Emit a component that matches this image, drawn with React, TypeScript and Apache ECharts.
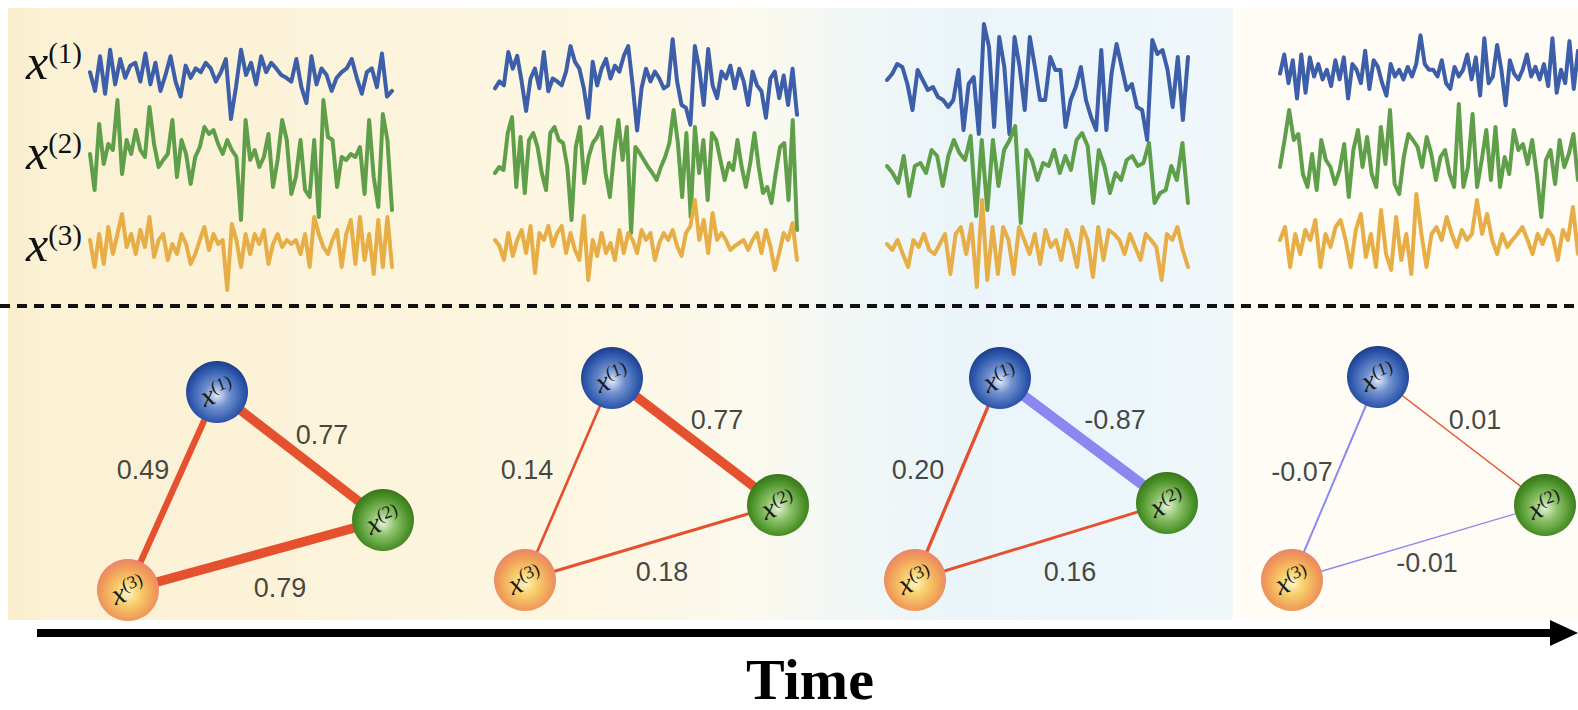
import React, { useEffect, useRef } from "react";
import * as echarts from "echarts";

const W = 1578;
const H = 710;

// ---- time-series values (amplitude in px, positive = up) ----
const p1s1 = [3,-17,20,-20,27,-10,17,-3,10,13,-7,23,-10,13,-17,0,20,-7,-23,10,-3,7,3,13,7,-7,3,17,-47,-13,27,0,13,-10,20,3,13,7,0,-3,-7,17,-13,-30,20,-10,7,0,-17,-3,3,7,17,-3,-20,3,7,-13,23,-23,-17];
const p1s2 = [3,-33,33,-7,13,7,57,-17,17,3,27,7,0,50,13,-10,-3,3,37,-20,17,3,-27,0,10,30,23,27,13,3,17,7,0,-63,37,-3,7,-10,0,23,-30,-3,37,17,-37,-20,17,-33,-40,17,-60,57,20,17,-30,0,-3,3,0,10,-37,37,-20,-50,43,17,-53];
const p1s3 = [7,-20,13,-17,20,-7,13,33,0,13,-7,17,0,30,-10,7,13,-13,3,-7,13,3,-17,-7,7,20,-3,13,3,7,-43,23,7,-20,13,-7,13,3,17,-17,3,13,0,7,3,7,-7,13,-20,30,13,0,-7,7,17,-20,13,27,-17,30,-13,13,-27,27,-20,30,-20];

const p2s1 = [-10,-3,-7,27,10,23,-3,-33,0,10,-10,27,-13,0,-3,-7,7,33,17,10,-10,-40,17,-7,10,20,0,13,7,23,33,-7,-53,-10,10,-3,7,0,-10,-7,40,-3,-27,-30,-47,33,10,-27,30,-7,-20,7,0,13,-10,10,-3,-27,7,-7,-13,-40,0,7,-20,3,-27,10,-37];
const p2s2 = [-13,-7,-10,27,43,-27,23,-33,20,27,13,-13,-30,27,33,20,17,-7,-60,13,33,-23,3,17,23,33,-13,-37,7,40,0,33,-73,13,7,0,-7,-13,-20,-7,3,17,50,17,-37,27,-57,33,-13,20,-40,27,20,0,-20,-3,-10,20,-7,-27,-3,27,-7,-33,-27,-43,-13,13,17,-40,40,-70];
const p2s3 = [3,-3,-17,10,-13,3,13,-10,17,-30,10,3,17,-3,10,17,-10,10,-7,-17,27,-37,3,-13,10,-10,0,-17,13,-10,10,3,-10,13,3,10,-17,0,10,3,13,-3,-13,10,17,43,3,23,-10,30,3,10,3,-7,-3,0,3,-7,3,10,-10,13,-3,-27,-10,10,3,20,-17];

const p3s1 = [7,13,23,20,3,-23,17,7,-3,0,-10,-13,-20,-13,17,-43,3,10,-47,63,40,-40,50,20,-47,50,20,-23,50,20,-13,-13,30,17,17,-40,-13,0,20,-13,-30,-43,37,-43,13,43,20,-3,3,-20,-23,-53,47,33,37,17,-20,30,-33,30];
const p3s2 = [7,0,-10,17,-23,7,10,0,23,17,-13,17,33,20,13,37,-43,33,-37,33,-13,23,33,47,-50,23,13,-7,10,7,23,0,17,3,33,40,27,-30,23,7,-20,0,-7,13,17,7,10,30,-30,-20,-17,7,-7,30,-30];
const p3s3 = [3,-3,7,-7,-20,7,0,13,-3,-7,3,13,-27,13,20,-7,23,-40,47,-33,20,-27,20,7,-27,20,7,-7,13,-17,17,0,7,-13,17,3,-20,20,7,-30,20,-13,17,13,7,-7,13,0,-13,13,7,0,-33,13,7,20,-3,-20];

const p4s1 = [3,23,-7,17,-23,23,-17,20,0,13,-3,7,-10,17,-3,20,-23,13,7,-7,27,-13,17,10,-7,-20,13,0,7,-3,10,0,13,43,13,7,7,0,17,-7,-13,10,0,7,23,-3,20,-20,40,-7,0,33,7,-30,17,3,-3,7,23,0,10,-3,13,-10,40,-17,7,-7,37,-13,27];
const p4s2 = [-10,17,47,17,23,-17,-30,3,-33,17,-3,-10,-27,-13,13,-40,7,27,-10,20,-17,-30,30,-7,47,-27,-37,0,23,17,10,-10,20,3,-23,0,7,-17,-30,53,-30,-10,43,-30,-3,27,-23,30,-30,0,-17,27,7,13,-7,17,-17,-60,-3,7,-27,17,-10,3,23,-23];
const p4s3 = [-3,10,-30,3,-17,7,-3,17,-30,3,-10,10,17,-3,-30,7,23,-20,3,-30,27,-17,-33,20,-23,3,-37,43,3,-30,3,10,-3,20,3,-10,7,-3,3,37,3,23,-3,-17,3,-10,-3,3,10,-3,-17,3,-7,7,0,-23,7,-3,30,-17];

const panelSeries = [
  [p1s1, p1s2, p1s3],
  [p2s1, p2s2, p2s3],
  [p3s1, p3s2, p3s3],
  [p4s1, p4s2, p4s3],
];

// ---- graph edge weights: [x1-x2, x1-x3, x3-x2] ----
const w1 = [0.77, 0.49, 0.79];
const w2 = [0.77, 0.14, 0.18];
const w3 = [-0.87, 0.2, 0.16];
const w4 = [0.01, -0.07, -0.01];
const weights = [w1, w2, w3, w4];
const nodeIds = ["1", "2", "3"];
const edgePairs = [[0, 1], [0, 2], [2, 1]];

// ---- layout ----
const panelX = [[90, 392], [495, 797], [887, 1188], [1280, 1582]];
const baselines = [[70, 157, 247], [77, 160, 243], [87, 173, 247], [73, 157, 237]];
const lineColors = ["#3d5fa9", "#5f9f4a", "#e7ae47"];
const labelY = [62, 152, 244];

const nodePos = [
  [[217, 392], [383, 520], [128, 590]],
  [[612, 378], [778, 505], [525, 580]],
  [[1000, 378], [1167, 503], [915, 580]],
  [[1378, 377], [1545, 505], [1292, 580]],
];
const edgeLabelPos = [
  [[322, 435], [143, 470], [280, 588]],
  [[717, 420], [527, 470], [662, 572]],
  [[1115, 420], [918, 470], [1070, 572]],
  [[1475, 420], [1302, 472], [1427, 563]],
];

const sphere = (stops: string[]) => ({
  type: "radial",
  x: 0.5,
  y: 0.55,
  r: 0.55,
  colorStops: stops.map((c, i) => ({ offset: [0, 0.35, 0.78, 1][i], color: c })),
});
const nodeFills = [
  sphere(["#e2e9f6", "#7393d0", "#2f58ad", "#1c3d88"]),
  sphere(["#e6f1d8", "#8fc46c", "#4a9028", "#387618"]),
  sphere(["#fff6c4", "#f8cf6c", "#f09b58", "#e9846c"]),
];

function buildOption() {
  const grid: any[] = [];
  const xAxis: any[] = [];
  const yAxis: any[] = [];
  const series: any[] = [];

  panelSeries.forEach((rows, p) =>
    rows.forEach((vals, r) => {
      const gi = grid.length;
      grid.push({
        left: panelX[p][0],
        top: baselines[p][r] - 80,
        width: panelX[p][1] - panelX[p][0],
        height: 160,
      });
      xAxis.push({
        type: "category",
        gridIndex: gi,
        show: false,
        boundaryGap: false,
        data: vals.map((_, i) => i),
      });
      yAxis.push({ type: "value", gridIndex: gi, show: false, min: -80, max: 80 });
      series.push({
        type: "line",
        xAxisIndex: gi,
        yAxisIndex: gi,
        data: vals,
        symbol: "none",
        silent: true,
        z: 3,
        lineStyle: { color: lineColors[r], width: 4, join: "round", cap: "round" },
      });
    })
  );

  // full-canvas coordinate system for the graphs
  const gG = grid.length;
  grid.push({ left: 0, top: 0, width: W, height: H });
  xAxis.push({ type: "value", gridIndex: gG, show: false, min: 0, max: W });
  yAxis.push({ type: "value", gridIndex: gG, show: false, min: 0, max: H, inverse: true });

  const nodes: any[] = [];
  const links: any[] = [];
  const edgeLabels: any[] = [];
  weights.forEach((ws, p) => {
    nodeIds.forEach((id, k) => {
      nodes.push({
        name: `x(${id})-${p}`,
        k: id,
        value: nodePos[p][k],
        itemStyle: { color: nodeFills[k] },
      });
    });
    ws.forEach((w, e) => {
      links.push({
        source: p * 3 + edgePairs[e][0],
        target: p * 3 + edgePairs[e][1],
        lineStyle: {
          width: 1.2 + 10.5 * Math.abs(w),
          color: w >= 0 ? "#e5502e" : "#8a87f0",
          opacity: 1,
        },
      });
      edgeLabels.push([edgeLabelPos[p][e][0], edgeLabelPos[p][e][1], w]);
    });
  });

  series.push({
    type: "graph",
    layout: "none",
    coordinateSystem: "cartesian2d",
    xAxisIndex: gG,
    yAxisIndex: gG,
    symbol: "circle",
    symbolSize: 62,
    silent: true,
    z: 4,
    data: nodes,
    links,
    lineStyle: { opacity: 1, curveness: 0 },
    label: {
      show: true,
      position: "inside",
      rotate: 20,
      formatter: (pr: any) => `{x|x}{s|(${pr.data.k})}`,
      rich: {
        x: {
          fontSize: 29,
          fontStyle: "italic",
          fontFamily: "Liberation Serif",
          color: "#1a1a1a",
          lineHeight: 30,
        },
        s: {
          fontSize: 18,
          fontFamily: "Liberation Serif",
          color: "#1a1a1a",
          lineHeight: 18,
          verticalAlign: "top",
        },
      },
    },
  });

  series.push({
    type: "scatter",
    xAxisIndex: gG,
    yAxisIndex: gG,
    symbolSize: 1,
    silent: true,
    z: 5,
    itemStyle: { color: "rgba(0,0,0,0)" },
    data: edgeLabels,
    label: {
      show: true,
      position: "inside",
      formatter: (pr: any) => Number(pr.value[2]).toFixed(2),
      fontSize: 27,
      fontFamily: "Liberation Sans",
      color: "#151515",
    },
  });

  const graphic: any[] = [
    {
      type: "rect",
      z: 0,
      silent: true,
      shape: { x: 8, y: 8, width: 1225, height: 612 },
      style: {
        fill: new echarts.graphic.LinearGradient(0, 0, 1, 0, [
          { offset: 0, color: "#f9edcc" },
          { offset: 0.03, color: "#fbf1d4" },
          { offset: 0.16, color: "#fbf2d7" },
          { offset: 0.32, color: "#fcf4dc" },
          { offset: 0.48, color: "#fdf7e3" },
          { offset: 0.61, color: "#fbf9ee" },
          { offset: 0.69, color: "#f1f7f6" },
          { offset: 0.77, color: "#ebf5f9" },
          { offset: 0.93, color: "#edf6fa" },
          { offset: 1, color: "#f1f8fa" },
        ]),
      },
    },
    {
      type: "rect",
      z: 0,
      silent: true,
      shape: { x: 1233, y: 8, width: W - 1233, height: 612 },
      style: { fill: "#fefcf4" },
    },
    {
      type: "line",
      z: 1,
      silent: true,
      shape: { x1: 0, y1: 306, x2: W, y2: 306 },
      style: { stroke: "#111", lineWidth: 4, lineDash: [10, 7] },
    },
    {
      type: "line",
      z: 11,
      silent: true,
      shape: { x1: 37, y1: 633, x2: 1556, y2: 633 },
      style: { stroke: "#000", lineWidth: 8 },
    },
    {
      type: "polygon",
      z: 11,
      silent: true,
      shape: { points: [[1550, 620], [1578, 633], [1550, 646]] },
      style: { fill: "#000" },
    },
    {
      type: "text",
      z: 11,
      silent: true,
      x: 810,
      y: 679,
      style: {
        text: "Time",
        fontSize: 58,
        fontWeight: "bold",
        fontFamily: "Liberation Serif",
        fill: "#000",
        align: "center",
        verticalAlign: "middle",
      },
    },
  ];

  nodeIds.forEach((id, r) => {
    graphic.push({
      type: "text",
      z: 11,
      silent: true,
      x: 26,
      y: labelY[r],
      style: {
        text: `{x|x}{s|(${id})}`,
        align: "left",
        verticalAlign: "middle",
        rich: {
          x: {
            fontSize: 50,
            fontStyle: "italic",
            fontFamily: "Liberation Serif",
            fill: "#111",
            lineHeight: 48,
          },
          s: {
            fontSize: 29,
            fontFamily: "Liberation Serif",
            fill: "#111",
            lineHeight: 30,
            verticalAlign: "top",
          },
        },
      },
    });
  });

  return {
    animation: false,
    backgroundColor: "#ffffff",
    grid,
    xAxis,
    yAxis,
    series,
    graphic,
  };
}

export default function App() {
  const ref = useRef<HTMLDivElement>(null);
  useEffect(() => {
    if (!ref.current) return;
    const chart = echarts.init(ref.current, undefined, { renderer: "svg" });
    chart.setOption(buildOption() as any);
    return () => chart.dispose();
  }, []);
  return (
    <div
      ref={ref}
      style={{ position: "fixed", left: 0, top: 0, width: W, height: H, background: "#fff" }}
    />
  );
}
